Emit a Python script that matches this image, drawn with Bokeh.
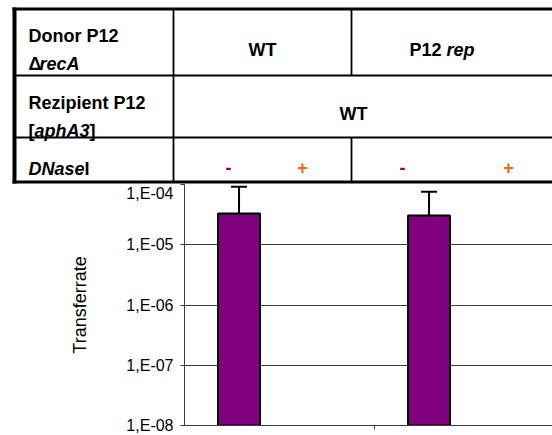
from bokeh.plotting import figure
from bokeh.layouts import column
from bokeh.models import (Range1d, FixedTicker, CustomJSTickFormatter, ColumnDataSource,
                          Whisker, TeeHead, LogAxis)
from bokeh.core.properties import value
from bokeh.embed import file_html
from bokeh.resources import INLINE

# ---------------- data ----------------
donor_groups = ["WT", "P12 rep"]
dnase_levels = ["-", "+"]
transfer_minus = [3.3e-5, 3.05e-5]     # DNaseI "-" (purple bars)
error_minus = [5.9e-5, 4.55e-5]        # upper error (added to value)
y_ticks = [1e-8, 1e-7, 1e-6, 1e-5, 1e-4]
y_tick_labels = ["1,E-08", "1,E-07", "1,E-06", "1,E-05", "1,E-04"]
y_label = "Transferrate"

FONT = value("Liberation Sans")
PURPLE = "#800080"
ORANGE = "#FF6600"
AXIS_GREY = "#3c3c3c"

# ---------------- table (header) figure ----------------
T_W, T_H = 552, 184
t = figure(width=T_W, height=T_H, x_range=Range1d(0, T_W), y_range=Range1d(T_H, 0),
           output_backend="svg", toolbar_location=None,
           x_axis_location=None, y_axis_location=None,
           min_border=0, outline_line_color=None, frame_align=False)
t.grid.visible = False

# border and inner lines
t.segment(x0=[14], y0=[7], x1=[14], y1=[183], line_color="black", line_width=4)
t.segment(x0=[12], y0=[8.5], x1=[T_W], y1=[8.5], line_color="black", line_width=3)
t.segment(x0=[12], y0=[181.5], x1=[T_W], y1=[181.5], line_color="black", line_width=3)
t.segment(x0=[14, 14], y0=[75, 137], x1=[T_W, T_W], y1=[75, 137], line_color="black", line_width=1.8)
t.segment(x0=[173], y0=[9], x1=[173], y1=[181], line_color="black", line_width=1.8)
t.segment(x0=[351, 351], y0=[9, 137], x1=[351, 351], y1=[75, 181], line_color="black", line_width=1.8)

FS = "18px"
def txt(x, y, s, style="bold", align="left", color="black"):
    t.text(x=[x], y=[y], text=[s], text_font=FONT, text_font_style=style,
           text_font_size=FS, text_align=align, text_baseline="alphabetic",
           text_color=color)

# row headers
txt(28, 35, "Donor P12")
txt(28, 63, "\u0394")
txt(39, 63, "recA", "bold italic")
txt(28, 102, "Rezipient P12")
txt(28, 130, "[")
txt(34, 130, "aphA3", "bold italic")
txt(89, 130, "]")
txt(28, 168, "DNase", "bold italic")
txt(84, 168, "I")

# donor columns
txt(262, 49, donor_groups[0], align="center")
txt(441, 49, "P12", align="right")
txt(446, 49, "rep", "bold italic")
# recipient
txt(353, 113, "WT", align="center")
# DNaseI signs
for cx in (228, 402):
    txt(cx, 167, dnase_levels[0], align="center", color=PURPLE)
for cx in (302, 508):
    txt(cx, 167, dnase_levels[1], align="center", color=ORANGE)

# ---------------- chart figure ----------------
GROUP_PX = 190.0
FRAME_W = 368.0
p = figure(width=552, height=251, y_axis_type="log",
           x_range=Range1d(0, FRAME_W / GROUP_PX), y_range=Range1d(1e-8, 1e-4),
           output_backend="svg", toolbar_location=None,
           min_border_left=184, min_border_right=0, min_border_top=0, min_border_bottom=10,
           outline_line_color=None, frame_align=False)

bar_offset = 0.287
xs = [i + bar_offset for i in range(len(donor_groups))]
upper = [v + e for v, e in zip(transfer_minus, error_minus)]
src = ColumnDataSource(dict(x=xs, value=transfer_minus, upper=upper))

p.vbar(x="x", top="value", bottom=y_ticks[0], width=0.221, source=src,
       fill_color=PURPLE, line_color="black", line_width=2)
p.add_layout(Whisker(source=src, base="x", upper="upper", lower="value",
                     lower_head=None,
                     upper_head=TeeHead(size=16, line_color="black", line_width=2),
                     line_color="black", line_width=2))

p.xgrid.visible = False
p.ygrid.grid_line_color = AXIS_GREY
p.ygrid.grid_line_width = 1
p.ygrid.ticker = FixedTicker(ticks=y_ticks)

# inner y axis: line and tick marks only
ya = p.yaxis[0]
ya.ticker = FixedTicker(ticks=y_ticks)
ya.formatter = CustomJSTickFormatter(code="return '';")
ya.axis_line_color = AXIS_GREY
ya.major_tick_line_color = AXIS_GREY
ya.major_tick_out = 4
ya.major_tick_in = 0
ya.minor_tick_out = 0
ya.minor_tick_in = 0
ya.major_label_standoff = 0
ya.major_label_text_font_size = "0px"

# outer y axis: tick labels (top one pushed below the table, as Excel does) + title
label_pos = list(y_ticks)
label_pos[-1] = y_ticks[-1] * 10 ** (-7.5 / 60.25)
ya2 = LogAxis(ticker=FixedTicker(ticks=label_pos),
              formatter=CustomJSTickFormatter(args=dict(tlabels=y_tick_labels),
                                              code="return tlabels[index];"))
ya2.axis_line_color = None
ya2.major_tick_line_color = None
ya2.minor_tick_line_color = None
ya2.major_tick_out = 0
ya2.major_tick_in = 0
ya2.minor_tick_out = 0
ya2.minor_tick_in = 0
ya2.major_label_standoff = 7
ya2.major_label_text_font = "Liberation Sans"
ya2.major_label_text_font_size = "16px"
ya2.major_label_text_color = "black"
ya2.axis_label = y_label
ya2.axis_label_text_font = "Liberation Sans"
ya2.axis_label_text_font_size = "18px"
ya2.axis_label_text_font_style = "normal"
ya2.axis_label_text_color = "black"
ya2.axis_label_standoff = 33
p.add_layout(ya2, "left")

xa = p.xaxis[0]
xa.ticker = FixedTicker(ticks=[1])
xa.formatter = CustomJSTickFormatter(code="return '';")
xa.major_label_text_font_size = "0px"
xa.major_label_standoff = 0
xa.axis_line_color = AXIS_GREY
xa.major_tick_line_color = AXIS_GREY
xa.major_tick_out = 4
xa.major_tick_in = 0
xa.minor_tick_out = 0
xa.minor_tick_in = 0

layout = column(t, p, spacing=0)
open("out.html", "w").write(file_html(layout, INLINE))
